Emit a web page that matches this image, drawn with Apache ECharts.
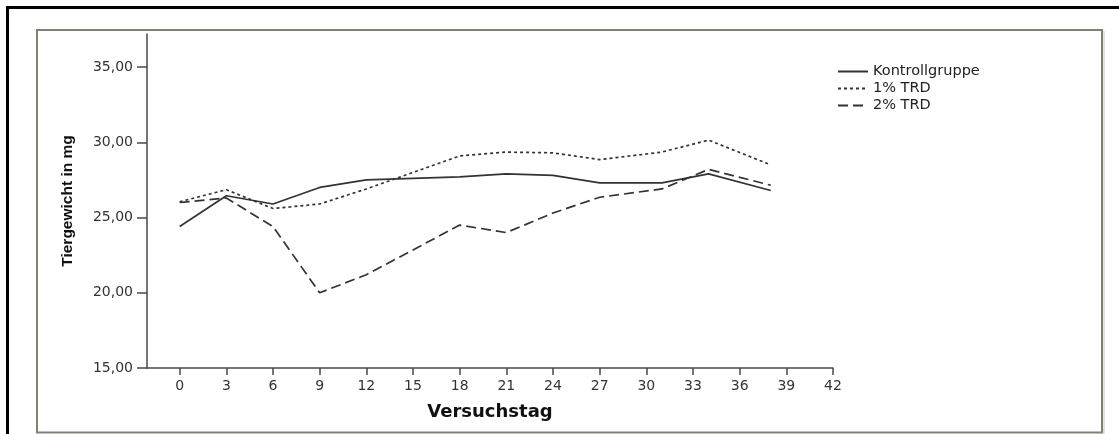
<!DOCTYPE html>
<html>
<head>
<meta charset="utf-8">
<script src="https://cdn.jsdelivr.net/npm/echarts@6/dist/echarts.min.js"></script>
<style>
  html, body { margin: 0; padding: 0; background: #fff; }
  #chart { width: 1119px; height: 434px; }
</style>
</head>
<body>
<div id="chart"></div>
<script>
// Versuchstage (x) und mittleres Tiergewicht je Gruppe (mg)
const days = [0, 3, 6, 9, 12, 18, 21, 24, 27, 31, 34, 38];
const kontrollgruppe = [24.4, 26.45, 25.9, 27.0, 27.5, 27.7, 27.9, 27.8, 27.3, 27.3, 27.9, 26.8];
const trd1 = [26.05, 26.85, 25.6, 25.9, 26.9, 29.1, 29.35, 29.3, 28.85, 29.35, 30.15, 28.5];
const trd2 = [26.0, 26.3, 24.4, 20.0, 21.2, 24.5, 24.0, 25.3, 26.35, 26.9, 28.2, 27.15];
const seriesNames = ['Kontrollgruppe', '1% TRD', '2% TRD'];

// Achsenbeschriftungen
const xTicks = [0, 3, 6, 9, 12, 15, 18, 21, 24, 27, 30, 33, 36, 39, 42];
const yTicks = [15, 20, 25, 30, 35];

const pairs = (vals) => days.map((d, i) => [d, vals[i]]);
const lineColor = '#333333';
const axisColor = '#4a4a4a';

const chart = echarts.init(document.getElementById('chart'), null, { renderer: 'canvas' });

chart.setOption({
  animation: false,
  backgroundColor: '#ffffff',
  graphic: [
    // äußerer schwarzer Rahmen
    { type: 'rect', z: 0, silent: true,
      shape: { x: 7.5, y: 7.5, width: 1300, height: 600 },
      style: { fill: null, stroke: '#000', lineWidth: 3 } },
    // grauer Diagrammrahmen mit leichtem Schatten rechts
    { type: 'rect', z: 0, silent: true,
      shape: { x: 1103.5, y: 31, width: 1, height: 403 },
      style: { fill: '#c9c6bc' } },
    { type: 'rect', z: 0, silent: true,
      shape: { x: 37, y: 30, width: 1065, height: 402.5 },
      style: { fill: null, stroke: '#838070', lineWidth: 2 } }
  ],
  legend: {
    orient: 'vertical',
    left: 832,
    top: 59,
    itemWidth: 30,
    itemHeight: 14,
    itemGap: 2,
    itemStyle: { opacity: 0 },
    textStyle: { fontFamily: 'DejaVu Sans', fontSize: 14.5, color: '#222' },
    data: seriesNames
  },
  grid: { left: 147, top: 34, width: 686, height: 334, containLabel: false },
  xAxis: {
    type: 'value',
    min: -2.1,
    max: 42,
    name: 'Versuchstag',
    nameLocation: 'middle',
    nameGap: 35,
    nameTextStyle: { fontFamily: 'DejaVu Sans', fontWeight: 'bold', fontSize: 18, color: '#111' },
    axisLine: { onZero: false, lineStyle: { color: axisColor, width: 1.5 } },
    axisTick: { show: true, length: 7, inside: false, customValues: xTicks,
      lineStyle: { color: axisColor, width: 1.5 } },
    axisLabel: { customValues: xTicks, margin: 11,
      fontFamily: 'DejaVu Sans', fontSize: 14, color: '#333' },
    splitLine: { show: false }
  },
  yAxis: {
    type: 'value',
    min: 15,
    max: 37.2,
    name: 'Tiergewicht in mg',
    nameLocation: 'middle',
    nameRotate: 90,
    nameGap: 71,
    nameTextStyle: { fontFamily: 'Liberation Sans', fontWeight: 'bold', fontSize: 15.5, color: '#111' },
    axisLine: { show: true, onZero: false, lineStyle: { color: axisColor, width: 1.5 } },
    axisTick: { show: true, length: 10, customValues: yTicks,
      lineStyle: { color: axisColor, width: 1.5 } },
    axisLabel: { customValues: yTicks, margin: 14,
      fontFamily: 'DejaVu Sans', fontSize: 14, color: '#333',
      formatter: (v) => v.toFixed(2).replace('.', ',') },
    splitLine: { show: false }
  },
  series: [
    { name: seriesNames[0], type: 'line', symbol: 'none', data: pairs(kontrollgruppe),
      lineStyle: { color: lineColor, width: 1.7, type: 'solid' }, itemStyle: { color: lineColor } },
    { name: seriesNames[1], type: 'line', symbol: 'none', data: pairs(trd1),
      lineStyle: { color: lineColor, width: 1.7, type: [3, 3] }, itemStyle: { color: lineColor } },
    { name: seriesNames[2], type: 'line', symbol: 'none', data: pairs(trd2),
      lineStyle: { color: lineColor, width: 1.7, type: [10, 5] }, itemStyle: { color: lineColor } }
  ]
});
</script>
</body>
</html>
